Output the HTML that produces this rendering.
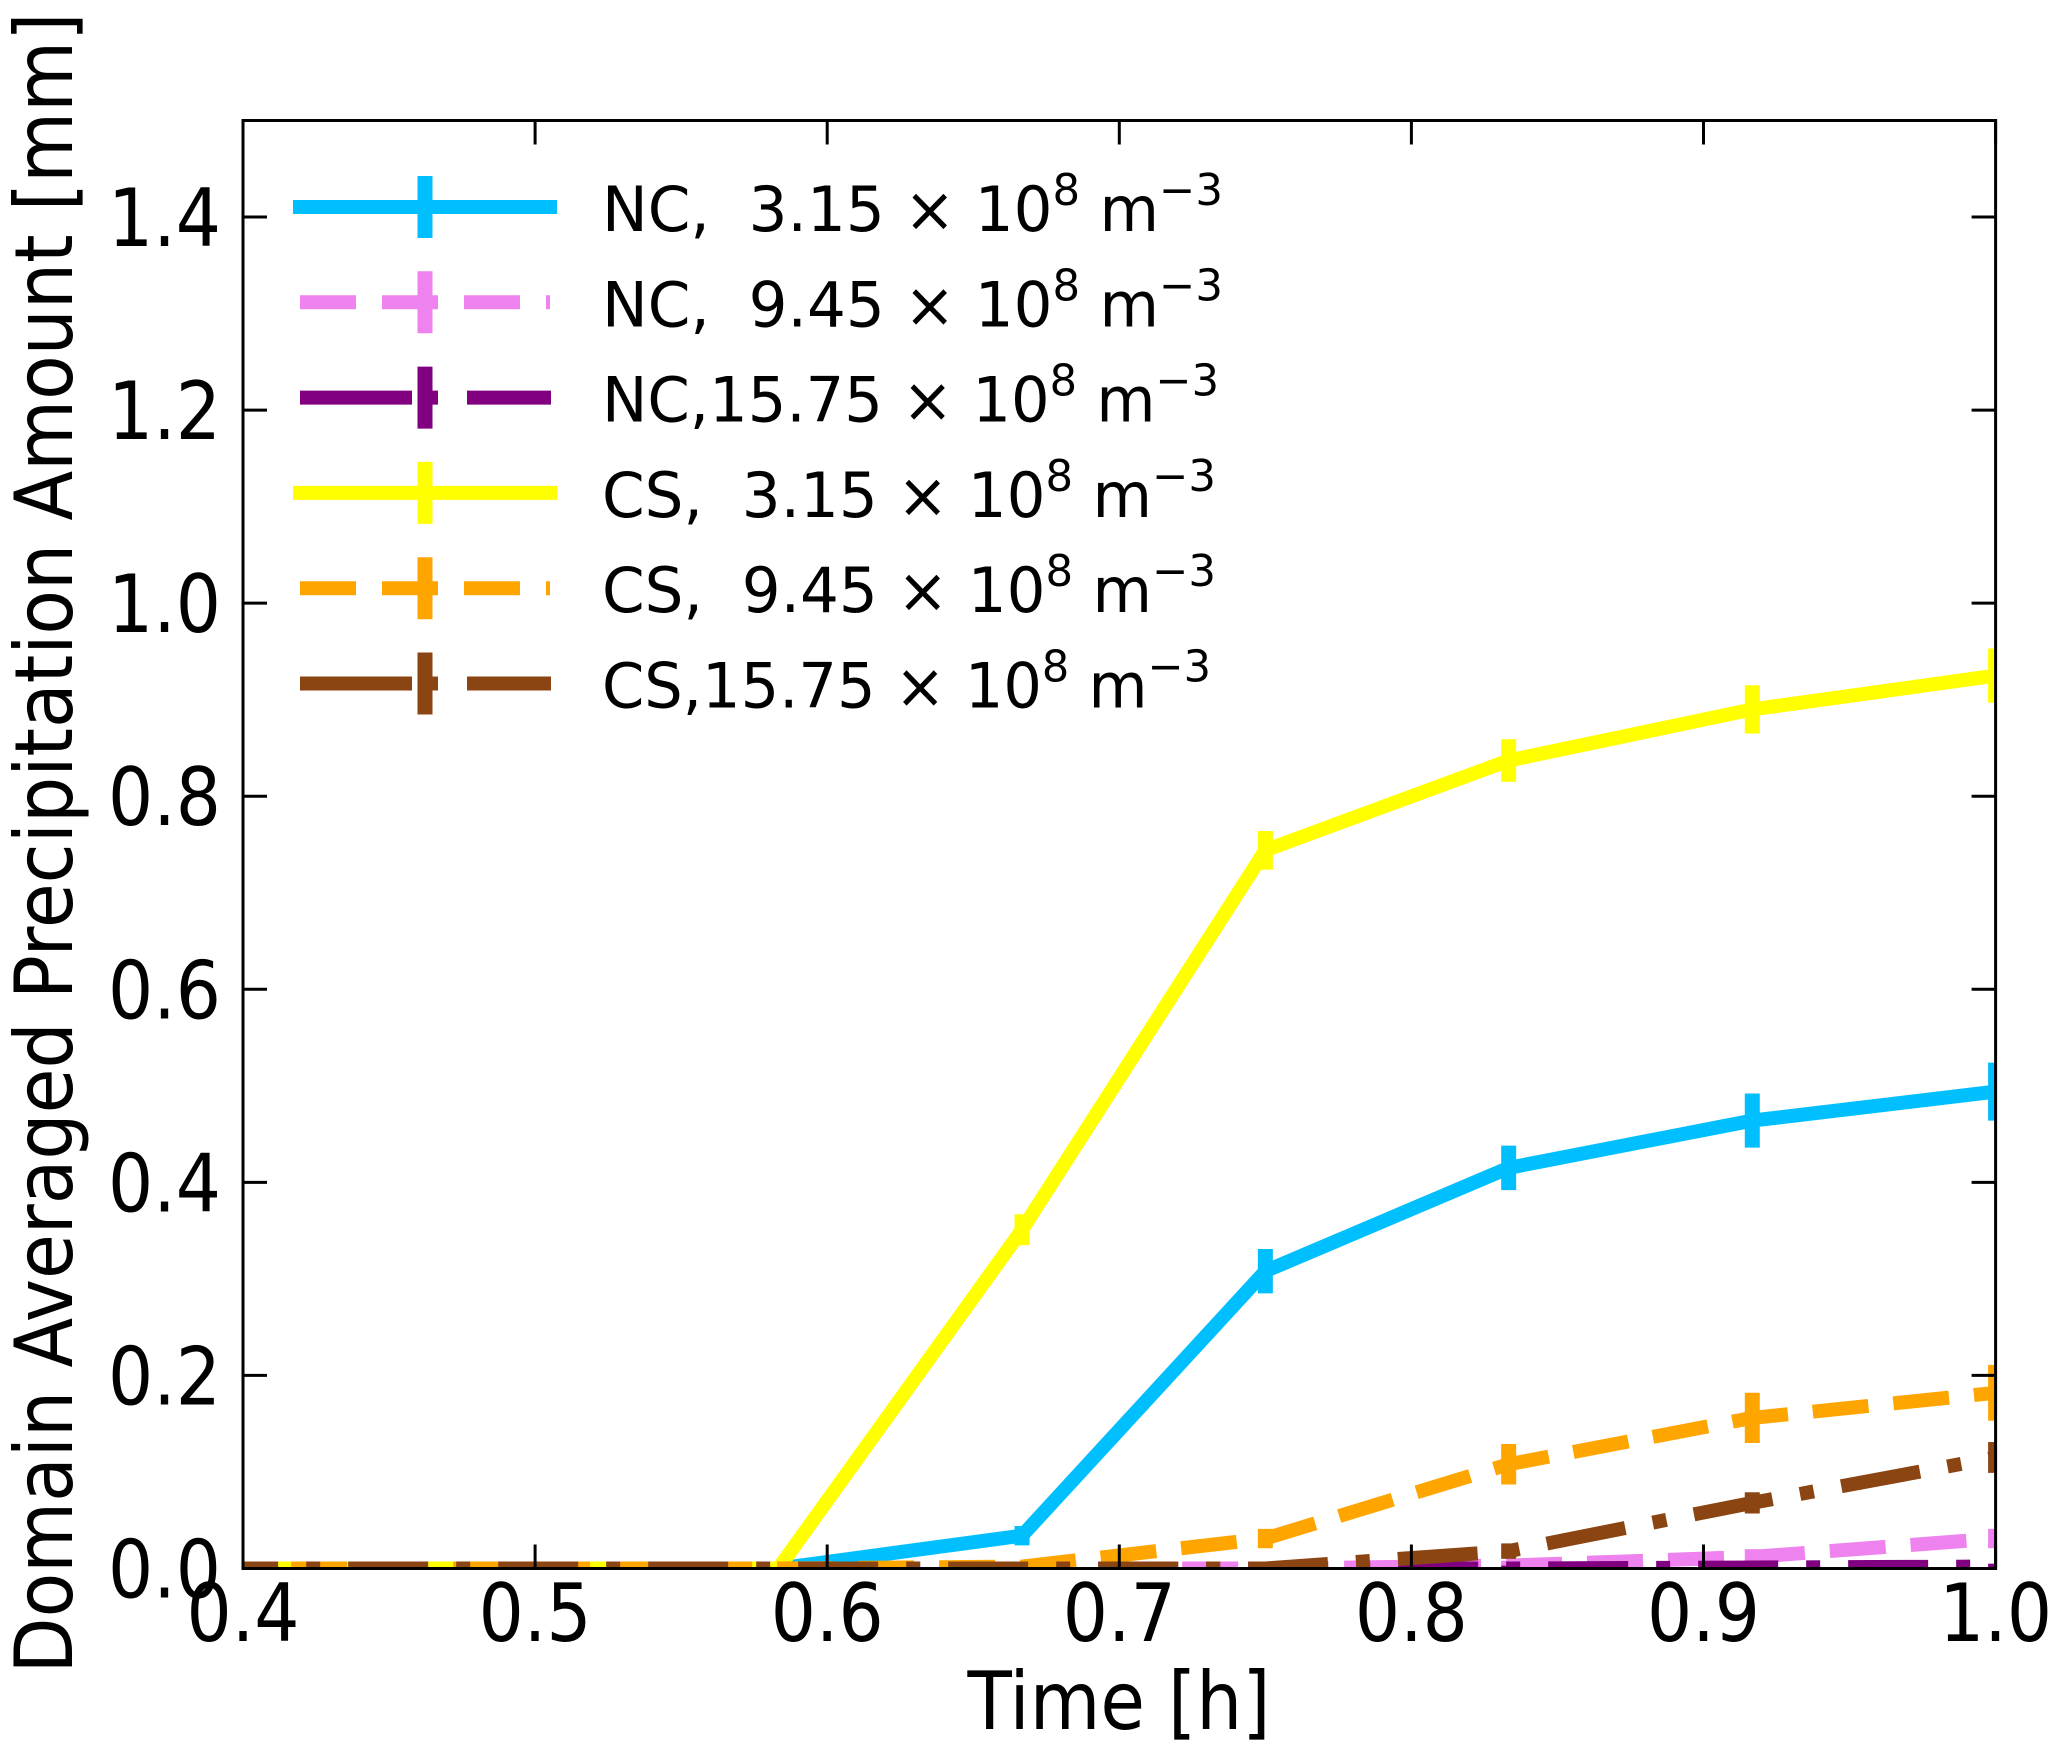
<!DOCTYPE html>
<html><head><meta charset="utf-8"><style>
html,body{margin:0;padding:0;background:#fff;}
svg{display:block;font-family:"DejaVu Sans","Liberation Sans",sans-serif;}
</style></head><body>
<svg id="chart" width="2067" height="1764" viewBox="0 0 2067 1764" xmlns="http://www.w3.org/2000/svg">
<defs><clipPath id="plotclip"><rect x="243" y="120" width="1753" height="1449"/></clipPath></defs>
<g id="series" clip-path="url(#plotclip)"></g>
<rect x="243" y="120.5" width="1752.6" height="1448" fill="none" stroke="#000" stroke-width="3"/>
<g id="ticks"></g>
<text x="1119" y="1729" font-size="80" text-anchor="middle" textLength="303" lengthAdjust="spacingAndGlyphs">Time [h]</text>
<text transform="translate(72,843) rotate(-90)" font-size="80" text-anchor="middle" textLength="1661" lengthAdjust="spacingAndGlyphs">Domain Averaged Precipitation Amount [mm]</text>
<g id="legend"></g>
</svg>
<script>
const times = [0.3333,0.4167,0.5,0.5833,0.6667,0.75,0.8333,0.9167,1.0];
const seriesNames = ["NC,  3.15","NC,  9.45","NC,15.75","CS,  3.15","CS,  9.45","CS,15.75"];
const ncLow = [0,0,0,0,0.034,0.308,0.415,0.464,0.494];
const ncMid = [0,0,0,0,0,0,0.003,0.012,0.031];
const ncHigh = [0,0,0,0,0,0,0,0.001,0.002];
const csLow = [0,0,0,0,0.351,0.744,0.837,0.890,0.925];
const csMid = [0,0,0,0,0.002,0.031,0.108,0.156,0.182];
const csHigh = [0,0,0,0,0,0,0.018,0.068,0.115];
const ncLowErr = [0,0,0,0,0.01,0.023,0.023,0.028,0.03];
const ncMidErr = [0,0,0,0,0,0,0.005,0.008,0.01];
const ncHighErr = [0,0,0,0,0,0,0.003,0.003,0.003];
const csLowErr = [0,0,0,0,0.016,0.02,0.022,0.025,0.028];
const csMidErr = [0,0,0,0,0.005,0.01,0.021,0.026,0.029];
const csHighErr = [0,0,0,0,0,0.004,0.008,0.011,0.016];
const xTicks = [0.4,0.5,0.6,0.7,0.8,0.9,1.0];
const xTickLabels = ["0.4","0.5","0.6","0.7","0.8","0.9","1.0"];
const yTicks = [0,0.2,0.4,0.6,0.8,1.0,1.2,1.4];
const yTickLabels = ["0.0","0.2","0.4","0.6","0.8","1.0","1.2","1.4"];

const NS="http://www.w3.org/2000/svg";
const X0=243,X1=1995.6,Y0=1568.5,Y1=120.5;
function xs(v){return X0+(v-0.4)/(1.0-0.4)*(X1-X0);}
function ys(v){return Y0-(v/1.5)*(Y0-Y1);}
function mk(tag,attrs,parent){const e=document.createElementNS(NS,tag);for(const k in attrs)e.setAttribute(k,attrs[k]);parent.appendChild(e);return e;}

const styles=[
 {c:"#00BFFF",d:"",vals:ncLow,err:ncLowErr},
 {c:"#EE82EE",d:"56 25",vals:ncMid,err:ncMidErr},
 {c:"#800080",d:"80 28 14 28",vals:ncHigh,err:ncHighErr},
 {c:"#FFFF00",d:"",vals:csLow,err:csLowErr},
 {c:"#FFA500",d:"56 25",vals:csMid,err:csMidErr},
 {c:"#8B4513",d:"80 28 14 28",vals:csHigh,err:csHighErr}
];
const sg=document.getElementById('series');
styles.forEach((s,i)=>{
  const g=mk('g',{},sg);
  
  
  const pts=times.map((t,j)=>xs(t)+','+ys(s.vals[j])).join(' ');
  const pl=mk('polyline',{points:pts,fill:'none',stroke:s.c,'stroke-width':14,'stroke-dasharray':s.d},g);
  
  
  times.forEach((t,j)=>{
    if(s.err[j]<=0)return;
    const ln=mk('line',{x1:xs(t),x2:xs(t),y1:ys(s.vals[j]-s.err[j]),y2:ys(s.vals[j]+s.err[j]),stroke:s.c,'stroke-width':15},g);
    
    
  });
});

const tg=document.getElementById('ticks');
xTicks.forEach((v,i)=>{
  const x=xs(v);
  mk('line',{x1:x,x2:x,y1:Y0,y2:Y0-24,stroke:'#000','stroke-width':3},tg);
  mk('line',{x1:x,x2:x,y1:Y1,y2:Y1+24,stroke:'#000','stroke-width':3},tg);
  const t=mk('text',{x:x,y:1641,'font-size':80,'text-anchor':'middle',textLength:113,lengthAdjust:'spacingAndGlyphs'},tg);
  
  
  t.textContent=xTickLabels[i];
});
yTicks.forEach((v,i)=>{
  const y=ys(v);
  mk('line',{x1:X0,x2:X0+24,y1:y,y2:y,stroke:'#000','stroke-width':3},tg);
  mk('line',{x1:X1,x2:X1-24,y1:y,y2:y,stroke:'#000','stroke-width':3},tg);
  const t=mk('text',{x:221,y:y+29,'font-size':80,'text-anchor':'end',textLength:113,lengthAdjust:'spacingAndGlyphs'},tg);
  
  
  t.textContent=yTickLabels[i];
});

const lg=document.getElementById('legend');
const lens=[621,621,617,614,614,609];
styles.forEach((s,i)=>{
  const cy=207+i*95.3;
  const g=mk('g',{},lg);
  
  
  if(s.d===""){
    mk('line',{x1:293,x2:557,y1:cy,y2:cy,stroke:s.c,'stroke-width':14},g);
  } else if(s.d==="56 25"){
    mk('line',{x1:300,x2:550,y1:cy,y2:cy,stroke:s.c,'stroke-width':14,'stroke-dasharray':'56 26'},g);
  } else {
    mk('line',{x1:300,x2:400,y1:cy,y2:cy,stroke:s.c,'stroke-width':14},g);
    mk('line',{x1:467,x2:551,y1:cy,y2:cy,stroke:s.c,'stroke-width':14},g);
    mk('line',{x1:400,x2:440,y1:cy,y2:cy,stroke:s.c,'stroke-width':14,'stroke-dasharray':'12 14'},g);
  }
  mk('line',{x1:425,x2:425,y1:cy-31,y2:cy+31,stroke:s.c,'stroke-width':15},g);
  const t=mk('text',{x:602,y:cy+24,'font-size':62,textLength:lens[i],lengthAdjust:'spacingAndGlyphs'},g);
  
  
  t.innerHTML=seriesNames[i].replace(/ /g,'\u00a0')+'\u00a0\u00d7\u00a010<tspan dy="-26" font-size="44">8</tspan><tspan dy="26">\u00a0m</tspan><tspan dy="-26" font-size="44">\u22123</tspan>';
});
</script>
</body></html>
